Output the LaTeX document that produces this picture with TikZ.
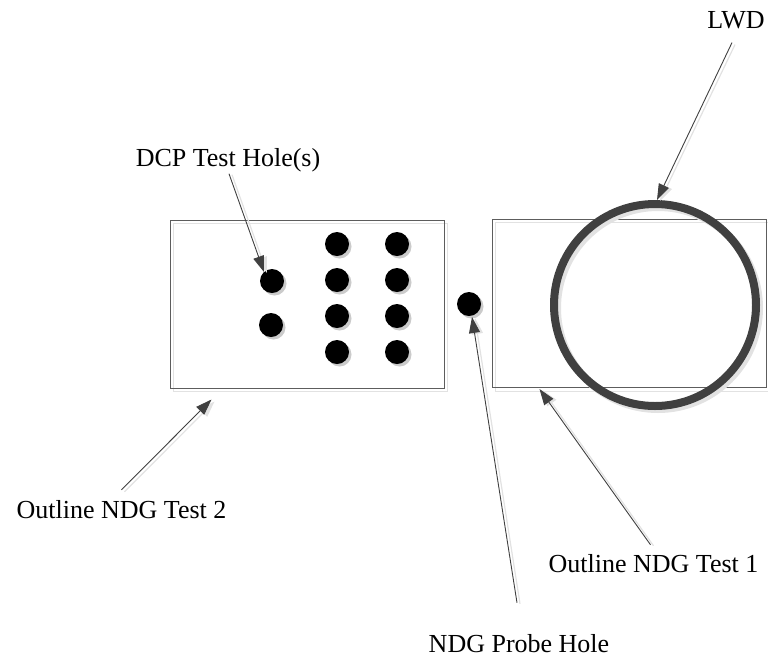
\documentclass[tikz,border=0pt]{standalone}
\usepackage{fontspec}
\setmainfont{Liberation Serif}
\usetikzlibrary{arrows.meta,calc}
\definecolor{ink}{HTML}{404040}
\definecolor{shadegray}{HTML}{E2E2E2}
\begin{document}
\begin{tikzpicture}[x=1pt,y=-1pt,
  lbl/.style={font=\fontsize{26}{30}\selectfont, inner sep=0pt, anchor=base},
  hole/.style={circle, fill=black, minimum size=24pt, inner sep=0pt},
  holeshadow/.style={fill=shadegray!90!black},
  outl/.style={draw=ink!85, line width=1pt, minimum width=274pt, minimum height=168pt, inner sep=0pt},
  outlshadow/.style={draw=shadegray, line width=1pt},
  ringstyle/.style={circle, draw=ink, line width=8pt, minimum size=202pt, inner sep=0pt},
  ringshadow/.style={draw=shadegray, line width=8pt},
  arr/.style={draw=ink, line width=0.9pt, -{Triangle[length=16pt,width=11pt]}},
  arrshadow/.style={draw=shadegray, fill=shadegray, line width=1.2pt, -{Triangle[length=16pt,width=11pt]}}
]
\useasboundingbox (0,0) rectangle (768,657);

% shadows of outlines
\draw[outlshadow] (173,223) rectangle (447,391);
\draw[outlshadow] (495,222) rectangle (769,391);
% outlines
\node[outl] (left) at (307,304) {};
\node[outl] (right) at (629,303.5) {};

% LWD ring
\draw[ringshadow] (658,308) circle (101);
\node[ringstyle] (ring) at (655,305) {};

% hole shadows
\foreach \x/\y in {272/281, 271/325, 337/244, 337/280, 337/316, 337/352, 397/244, 397/280, 397/316, 397/352, 469/304}
  \fill[holeshadow] (\x+2.5,\y+2.5) circle (12);

% holes
\node[hole] (h1) at (272,281) {};
\node[hole] (h2) at (271,325) {};
\node[hole] (h3) at (337,244) {};
\node[hole] (h4) at (337,280) {};
\node[hole] (h5) at (337,316) {};
\node[hole] (h6) at (337,352) {};
\node[hole] (h7) at (397,244) {};
\node[hole] (h8) at (397,280) {};
\node[hole] (h9) at (397,316) {};
\node[hole] (h10) at (397,352) {};
\node[hole] (probehole) at (469,304) {};

% labels
\node[lbl] (dcp) at (228,166) {DCP Test Hole(s)};
\node[lbl] (lwd) at (736,28) {LWD};
\node[lbl] (t2) at (121.5,518) {Outline NDG Test 2};
\node[lbl] (t1) at (653.5,572) {Outline NDG Test 1};
\node[lbl] (probe) at (519,652) {NDG Probe Hole};

% connector end points
\coordinate (dcpS) at ($(dcp.south)+(1,2)$);
\coordinate (lwdS) at ($(lwd.south)+(-4,14)$);
\coordinate (t2S) at ($(t2.north)+(0,-10)$);
\coordinate (t1S) at ($(t1.north)+(-3,-9)$);
\coordinate (probeS) at ($(probe.north)+(-2,-31)$);
\coordinate (t2T) at ($(left.south west)+(42,11)$);
\coordinate (t1T) at ($(right.south west)+(48,1)$);
\coordinate (h1T) at (264,272);
\coordinate (probeT) at (472,317);

% connector shadows
\draw[arrshadow] ($(dcpS)+(3,1)$) -- ($(h1T)+(3,1)$);
\draw[arrshadow] ($(lwdS)+(3,2)$) -- ($(ring.north)+(5,1)$);
\draw[arrshadow] ($(t2S)+(3,2)$) -- ($(t2T)+(3,2)$);
\draw[arrshadow] ($(t1S)+(3,1)$) -- ($(t1T)+(3,1)$);
\draw[arrshadow] ($(probeS)+(3,1)$) -- ($(probeT)+(3,1)$);

% connectors
\draw[arr] (dcpS) -- (h1T);
\draw[arr] (lwdS) -- ($(ring.north)+(2,0)$);
\draw[arr] (t2S) -- (t2T);
\draw[arr] (t1S) -- (t1T);
\draw[arr] (probeS) -- (probeT);
\end{tikzpicture}
\end{document}
